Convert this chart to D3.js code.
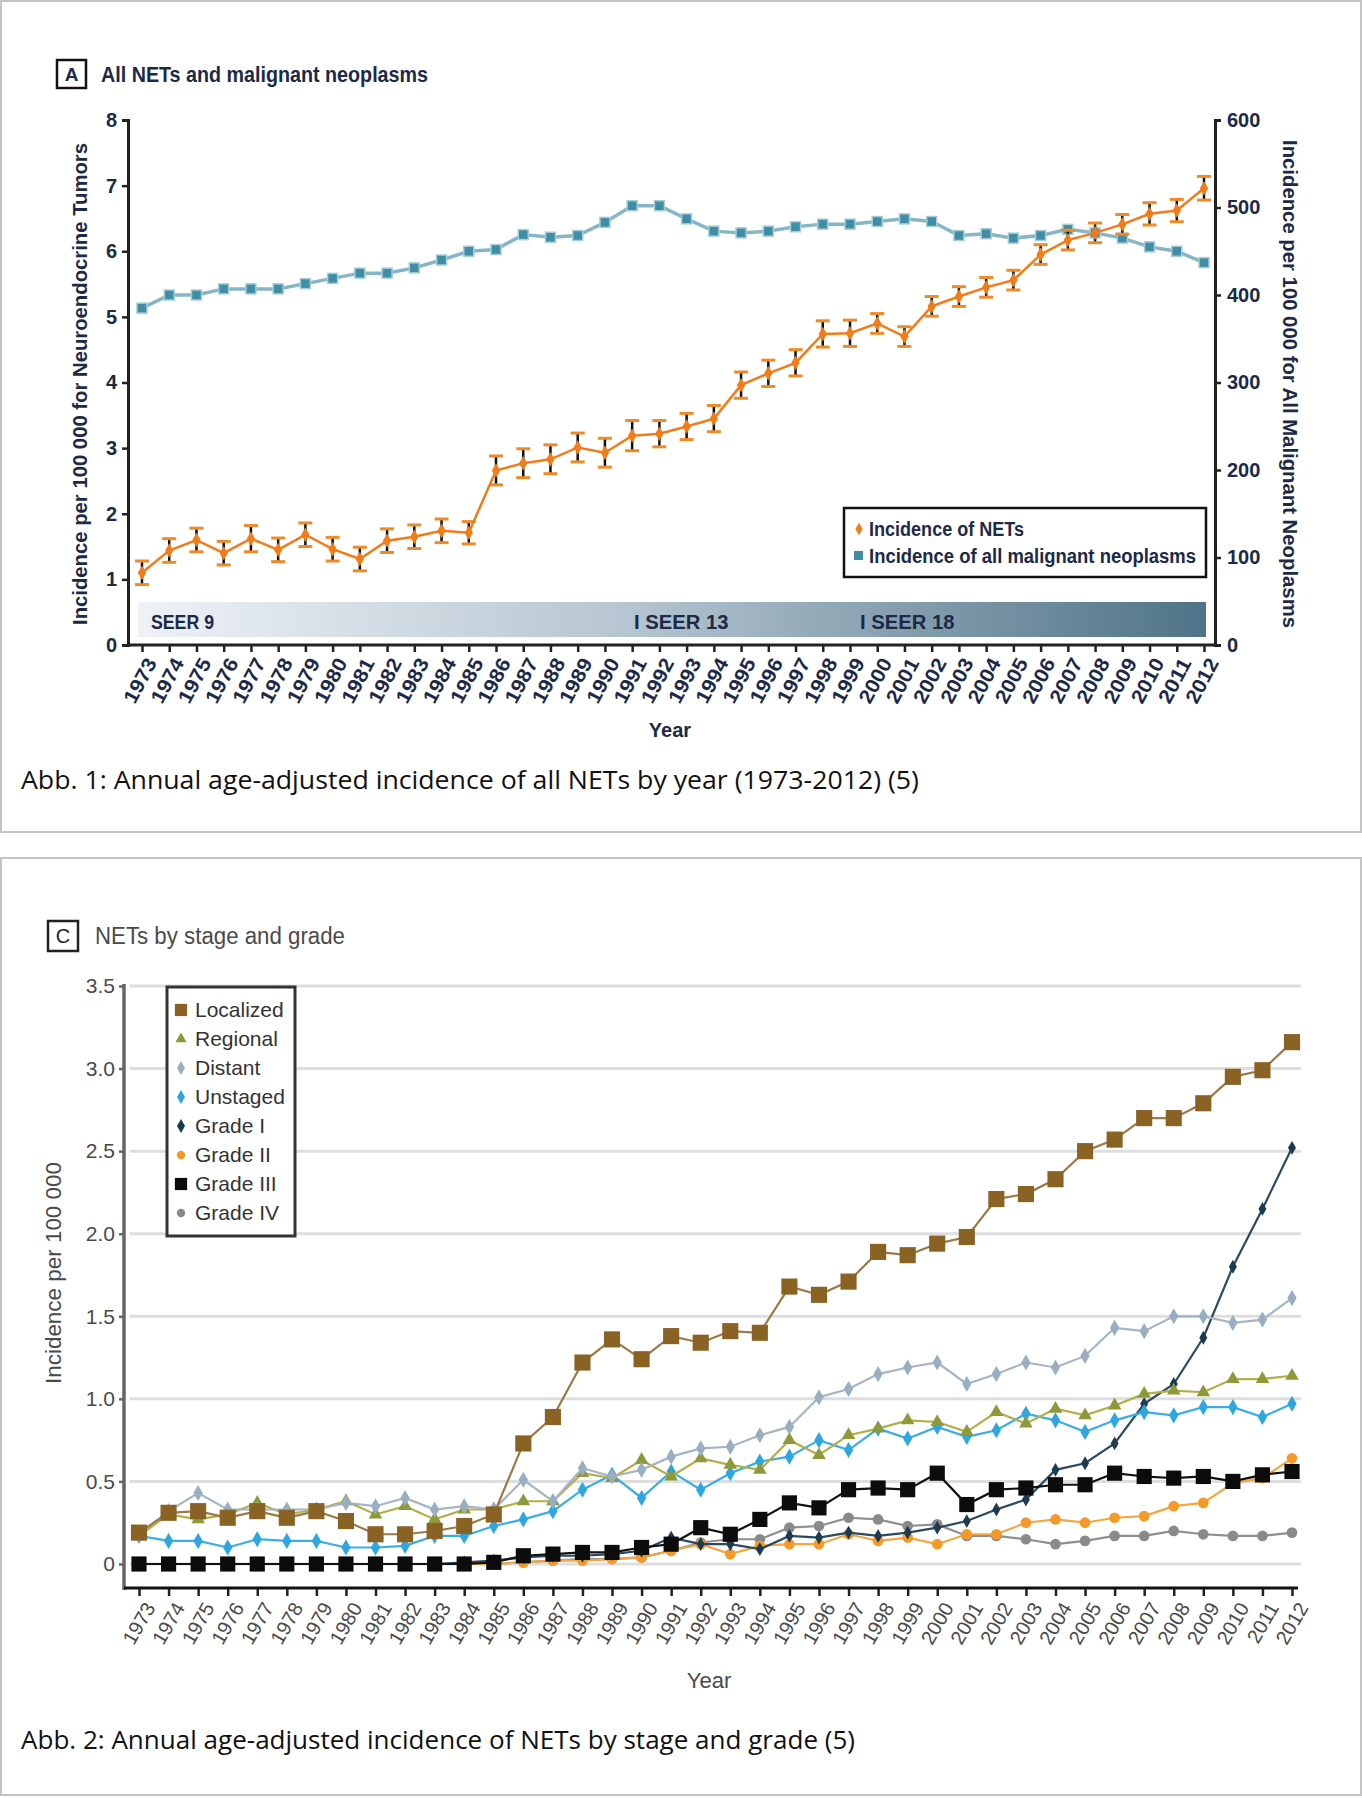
<!DOCTYPE html>
<html>
<head>
<meta charset="utf-8">
<script src="https://cdn.jsdelivr.net/npm/d3@7"></script>
<style>
  body { margin: 0; background: #fff; }
  svg { display: block; }
  .cond { font-family: "Liberation Sans", Arial, sans-serif; }
  .cap { font-family: "Open Sans", "Noto Sans", sans-serif; }
</style>
</head>
<body>
<script>
const years = d3.range(1973, 2013);

// panel A
const netIncidence = [1.10, 1.44, 1.60, 1.40, 1.62, 1.45, 1.68, 1.46, 1.31, 1.59,
  1.65, 1.74, 1.71, 2.66, 2.77, 2.83, 3.01, 2.93, 3.19, 3.22,
  3.33, 3.45, 3.96, 4.14, 4.30, 4.74, 4.75, 4.90, 4.70, 5.16,
  5.31, 5.45, 5.56, 5.95, 6.17, 6.28, 6.41, 6.57, 6.62, 6.96];
const netError = [0.18, 0.18, 0.18, 0.18, 0.20, 0.18, 0.18, 0.18, 0.18, 0.18,
  0.18, 0.18, 0.17, 0.22, 0.22, 0.22, 0.22, 0.22, 0.23, 0.20,
  0.20, 0.20, 0.20, 0.20, 0.20, 0.20, 0.20, 0.15, 0.15, 0.15,
  0.15, 0.15, 0.15, 0.15, 0.15, 0.15, 0.15, 0.17, 0.17, 0.18];
const malignantIncidence = [385, 400, 400, 407, 407, 407, 413, 419, 425, 425,
  431, 440, 450, 452, 469, 466, 468, 483, 502, 502,
  487, 473, 471, 473, 478, 481, 481, 484, 487, 484,
  468, 470, 465, 468, 475, 471, 465, 455, 450, 437];
const leftTicks = [0, 1, 2, 3, 4, 5, 6, 7, 8];
const rightTicks = [0, 100, 200, 300, 400, 500, 600];
const seerLabels = [{ year: 1973, label: "SEER 9" }, { year: 1990.74, label: "I SEER 13" }, { year: 1999.04, label: "I SEER 18" }];

// panel C
const stageGradeNames = ["Localized", "Regional", "Distant", "Unstaged", "Grade I", "Grade II", "Grade III", "Grade IV"];
const localized = [0.19, 0.31, 0.32, 0.28, 0.32, 0.28, 0.32, 0.26, 0.18, 0.18,
  0.20, 0.23, 0.30, 0.73, 0.89, 1.22, 1.36, 1.24, 1.38, 1.34,
  1.41, 1.40, 1.68, 1.63, 1.71, 1.89, 1.87, 1.94, 1.98, 2.21,
  2.24, 2.33, 2.50, 2.57, 2.70, 2.70, 2.79, 2.95, 2.99, 3.16];
const regional = [0.17, 0.30, 0.27, 0.30, 0.37, 0.30, 0.33, 0.38, 0.30, 0.35,
  0.27, 0.33, 0.33, 0.38, 0.38, 0.55, 0.52, 0.63, 0.53, 0.64,
  0.60, 0.57, 0.75, 0.66, 0.78, 0.82, 0.87, 0.86, 0.80, 0.92,
  0.85, 0.94, 0.90, 0.96, 1.03, 1.05, 1.04, 1.12, 1.12, 1.14];
const distant = [0.18, 0.32, 0.43, 0.33, 0.33, 0.33, 0.33, 0.37, 0.35, 0.40,
  0.33, 0.35, 0.33, 0.51, 0.38, 0.58, 0.53, 0.57, 0.65, 0.70,
  0.71, 0.78, 0.83, 1.01, 1.06, 1.15, 1.19, 1.22, 1.09, 1.15,
  1.22, 1.19, 1.26, 1.43, 1.41, 1.50, 1.50, 1.46, 1.48, 1.61];
const unstaged = [0.17, 0.14, 0.14, 0.10, 0.15, 0.14, 0.14, 0.10, 0.10, 0.11,
  0.17, 0.17, 0.23, 0.27, 0.32, 0.45, 0.54, 0.40, 0.56, 0.45,
  0.55, 0.62, 0.65, 0.75, 0.69, 0.82, 0.76, 0.83, 0.77, 0.81,
  0.91, 0.87, 0.80, 0.87, 0.92, 0.90, 0.95, 0.95, 0.89, 0.97];
const grade1 = [0, 0, 0, 0, 0, 0, 0, 0, 0, 0,
  0, 0.01, 0.02, 0.04, 0.05, 0.05, 0.06, 0.08, 0.16, 0.12,
  0.12, 0.09, 0.17, 0.16, 0.19, 0.17, 0.19, 0.22, 0.26, 0.33,
  0.39, 0.57, 0.61, 0.73, 0.97, 1.09, 1.37, 1.80, 2.15, 2.52];
const grade2 = [0, 0, 0, 0, 0, 0, 0, 0, 0, 0,
  0, 0, 0, 0.01, 0.02, 0.02, 0.03, 0.04, 0.08, 0.12,
  0.06, 0.11, 0.12, 0.12, 0.18, 0.14, 0.16, 0.12, 0.18, 0.18,
  0.25, 0.27, 0.25, 0.28, 0.29, 0.35, 0.37, 0.49, 0.52, 0.64];
const grade3 = [0, 0, 0, 0, 0, 0, 0, 0, 0, 0,
  0, 0, 0.01, 0.05, 0.06, 0.07, 0.07, 0.10, 0.12, 0.22,
  0.18, 0.27, 0.37, 0.34, 0.45, 0.46, 0.45, 0.55, 0.36, 0.45,
  0.46, 0.48, 0.48, 0.55, 0.53, 0.52, 0.53, 0.50, 0.54, 0.56];
const grade4 = [0, 0, 0, 0, 0, 0, 0, 0, 0, 0,
  0, 0, 0, 0.01, 0.02, 0.03, 0.03, 0.04, 0.08, 0.13,
  0.15, 0.15, 0.22, 0.23, 0.28, 0.27, 0.23, 0.24, 0.17, 0.17,
  0.15, 0.12, 0.14, 0.17, 0.17, 0.20, 0.18, 0.17, 0.17, 0.19];
const stageTicks = [0, 0.5, 1.0, 1.5, 2.0, 2.5, 3.0, 3.5];

const W = 1362, H = 1798;
const svg = d3.select("body").append("svg").attr("width", W).attr("height", H);

// text squeezed to the width it has in the picture
function fitText(sel, len) {
  return sel.attr("textLength", len).attr("lengthAdjust", "spacingAndGlyphs");
}

// panel frames
svg.append("rect").attr("x", 1).attr("y", 1).attr("width", W - 2).attr("height", 831)
  .attr("fill", "none").attr("stroke", "#c4c4c4").attr("stroke-width", 2);
svg.append("rect").attr("x", 1).attr("y", 858).attr("width", W - 2).attr("height", 937)
  .attr("fill", "none").attr("stroke", "#c4c4c4").attr("stroke-width", 2);

// ---------- panel A ----------
const navy = "#1c2a48";
const gA = svg.append("g").attr("class", "cond");
const xA = d3.scaleLinear().domain([1973, 2012]).range([142, 1204]);
const yL = d3.scaleLinear().domain([0, 8]).range([645, 120]);
const yR = d3.scaleLinear().domain([0, 600]).range([645, 120]);

gA.append("rect").attr("x", 57).attr("y", 60).attr("width", 29).attr("height", 28)
  .attr("fill", "none").attr("stroke", "#111").attr("stroke-width", 2.5);
gA.append("text").attr("x", 71.5).attr("y", 81).attr("text-anchor", "middle")
  .attr("font-size", 19).attr("font-weight", "bold").attr("fill", navy).text("A");
fitText(gA.append("text").attr("x", 101).attr("y", 82).attr("font-size", 22).attr("font-weight", "bold")
  .attr("fill", navy).text("All NETs and malignant neoplasms"), 327);

// SEER band
const grad = svg.append("defs").append("linearGradient").attr("id", "seer");
grad.append("stop").attr("offset", "0%").attr("stop-color", "#eef2f6");
grad.append("stop").attr("offset", "45%").attr("stop-color", "#b7c6d2");
grad.append("stop").attr("offset", "100%").attr("stop-color", "#4f7487");
gA.append("rect").attr("x", 138).attr("y", 602).attr("width", 1068).attr("height", 35)
  .attr("fill", "url(#seer)");
gA.selectAll("text.seer").data(seerLabels).enter().append("text")
  .attr("class", "seer").attr("x", d => xA(d.year) + 9).attr("y", 629)
  .attr("font-size", 20).attr("font-weight", "bold").attr("fill", navy)
  .attr("textLength", d => d.label.length * 10.5).attr("lengthAdjust", "spacingAndGlyphs")
  .text(d => d.label);

// axes
const axL = gA.append("g").attr("transform", "translate(128,0)")
  .call(d3.axisLeft(yL).tickValues(leftTicks).tickSize(6).tickPadding(5).tickFormat(d3.format("d")));
const axR = gA.append("g").attr("transform", "translate(1215,0)")
  .call(d3.axisRight(yR).tickValues(rightTicks).tickSize(6).tickPadding(6).tickFormat(d3.format("d")));
const axB = gA.append("g").attr("transform", "translate(0,645)")
  .call(d3.axisBottom(xA).tickValues(years).tickSize(7).tickFormat(d3.format("d")));
axB.select(".domain").remove();
gA.append("line").attr("x1", 128).attr("x2", 1215).attr("y1", 645).attr("y2", 645)
  .attr("stroke", "#222").attr("stroke-width", 3);
[axL, axR].forEach(a => a.select(".domain").attr("stroke", "#222").attr("stroke-width", 3));
[axL, axR, axB].forEach(a => {
  a.selectAll(".tick line").attr("stroke", "#222").attr("stroke-width", 2.5);
  a.selectAll("text").attr("font-size", 20).attr("font-weight", "bold").attr("fill", navy)
    .attr("font-family", null);
});
axB.selectAll("text").attr("text-anchor", "end").attr("dy", null)
  .attr("transform", "translate(6,13) rotate(-62)").attr("font-size", 20)
  .attr("textLength", 48).attr("lengthAdjust", "spacingAndGlyphs");

gA.append("text").attr("x", 670).attr("y", 737).attr("text-anchor", "middle")
  .attr("font-size", 20).attr("font-weight", "bold").attr("fill", navy).text("Year");
fitText(gA.append("text").attr("transform", "translate(87,384) rotate(-90)").attr("text-anchor", "middle")
  .attr("font-size", 21).attr("font-weight", "bold").attr("fill", navy)
  .text("Incidence per 100 000 for Neuroendocrine Tumors"), 482);
fitText(gA.append("text").attr("transform", "translate(1283,384) rotate(90)").attr("text-anchor", "middle")
  .attr("font-size", 21).attr("font-weight", "bold").attr("fill", navy)
  .text("Incidence per 100 000 for All Malignant Neoplasms"), 488);

// malignant series
const malData = years.map((y, i) => ({ y, v: malignantIncidence[i] }));
gA.append("path").datum(malData)
  .attr("d", d3.line().x(d => xA(d.y)).y(d => yR(d.v)))
  .attr("fill", "none").attr("stroke", "#86b6c6").attr("stroke-width", 3.5);
gA.selectAll("rect.mal").data(malData).enter().append("rect").attr("class", "mal")
  .attr("x", d => xA(d.y) - 5).attr("y", d => yR(d.v) - 5).attr("width", 10).attr("height", 10)
  .attr("fill", "#3f8ea5").attr("stroke", "#a6ccd8").attr("stroke-width", 1.5);

// NET series with error bars
const netData = years.map((y, i) => ({ y, v: netIncidence[i], e: netError[i] }));
const eb = gA.selectAll("g.eb").data(netData).enter().append("g").attr("class", "eb");
eb.append("line").attr("x1", d => xA(d.y)).attr("x2", d => xA(d.y))
  .attr("y1", d => yL(d.v - d.e)).attr("y2", d => yL(d.v + d.e))
  .attr("stroke", "#111").attr("stroke-width", 2.5);
["lo", "hi"].forEach(k => {
  eb.append("line").attr("x1", d => xA(d.y) - 7).attr("x2", d => xA(d.y) + 7)
    .attr("y1", d => yL(k === "lo" ? d.v - d.e : d.v + d.e))
    .attr("y2", d => yL(k === "lo" ? d.v - d.e : d.v + d.e))
    .attr("stroke", "#f08a24").attr("stroke-width", 3);
});
gA.append("path").datum(netData)
  .attr("d", d3.line().x(d => xA(d.y)).y(d => yL(d.v)))
  .attr("fill", "none").attr("stroke", "#f07c1a").attr("stroke-width", 2.5);
gA.selectAll("path.net").data(netData).enter().append("path").attr("class", "net")
  .attr("transform", d => `translate(${xA(d.y)},${yL(d.v)})`)
  .attr("d", d3.symbol(d3.symbolDiamond, 60)).attr("fill", "#f07c1a");

// legend A
gA.append("rect").attr("x", 844).attr("y", 508).attr("width", 362).attr("height", 69)
  .attr("fill", "#fff").attr("stroke", "#111").attr("stroke-width", 2.5);
gA.append("path").attr("transform", "translate(859,529)").attr("d", d3.symbol(d3.symbolDiamond, 45)).attr("fill", "#f07c1a");
gA.append("rect").attr("x", 854).attr("y", 551).attr("width", 9).attr("height", 9).attr("fill", "#3f8ea5");
fitText(gA.append("text").attr("x", 869).attr("y", 536).attr("font-size", 20).attr("font-weight", "bold")
  .attr("fill", navy).text("Incidence of NETs"), 155);
fitText(gA.append("text").attr("x", 869).attr("y", 563).attr("font-size", 20).attr("font-weight", "bold")
  .attr("fill", navy).text("Incidence of all malignant neoplasms"), 327);

fitText(svg.append("text").attr("class", "cap").attr("x", 21).attr("y", 789).attr("font-size", 26)
  .attr("fill", "#111").text("Abb. 1: Annual age-adjusted incidence of all NETs by year (1973-2012) (5)"), 898);

// ---------- panel C ----------
const grey = "#4a4a4a";
const gC = svg.append("g").attr("class", "cond");
const xC = d3.scaleLinear().domain([1973, 2012]).range([139, 1292]);
const yC = d3.scaleLinear().domain([0, 3.5]).range([1564, 986]);

gC.append("rect").attr("x", 48).attr("y", 921).attr("width", 30).attr("height", 30)
  .attr("fill", "none").attr("stroke", "#222").attr("stroke-width", 2.5);
gC.append("text").attr("x", 63).attr("y", 943).attr("text-anchor", "middle")
  .attr("font-size", 20).attr("fill", "#222").text("C");
fitText(gC.append("text").attr("x", 95).attr("y", 944).attr("font-size", 23)
  .attr("fill", grey).text("NETs by stage and grade"), 250);

// grid
gC.selectAll("line.grid").data(stageTicks).enter().append("line").attr("class", "grid")
  .attr("x1", 130).attr("x2", 1301).attr("y1", d => yC(d)).attr("y2", d => yC(d))
  .attr("stroke", "#dedede").attr("stroke-width", 3);

const axCL = gC.append("g").attr("transform", "translate(124,0)")
  .call(d3.axisLeft(yC).tickValues(stageTicks).tickSize(5).tickPadding(4)
    .tickFormat(d => d === 0 ? "0" : d3.format(".1f")(d)));
axCL.select(".domain").remove();
gC.append("line").attr("x1", 124).attr("x2", 124).attr("y1", 984).attr("y2", 1590)
  .attr("stroke", "#666").attr("stroke-width", 3.5);
const axCB = gC.append("g").attr("transform", "translate(0,1588)")
  .call(d3.axisBottom(xC).tickValues(years).tickSize(8).tickFormat(d3.format("d")));
axCB.select(".domain").remove();
gC.append("line").attr("x1", 124).attr("x2", 1298).attr("y1", 1588).attr("y2", 1588)
  .attr("stroke", "#111").attr("stroke-width", 3);
[axCL, axCB].forEach(a => {
  a.selectAll(".tick line").attr("stroke", "#222").attr("stroke-width", 2.5);
  a.selectAll("text").attr("font-size", 21).attr("fill", grey).attr("font-family", null);
});
axCL.selectAll(".tick line").attr("stroke", "#666");
axCB.selectAll("text").attr("text-anchor", "end").attr("dy", null).attr("font-size", 20)
  .attr("transform", "translate(7,14) rotate(-60)");

gC.append("text").attr("x", 709).attr("y", 1688).attr("text-anchor", "middle")
  .attr("font-size", 22).attr("fill", grey).text("Year");
fitText(gC.append("text").attr("transform", "translate(61,1273) rotate(-90)").attr("text-anchor", "middle")
  .attr("font-size", 22).attr("fill", grey).text("Incidence per 100 000"), 222);

const seriesC = [
  { name: "Grade IV", values: grade4, line: "#8e8e8e", fill: "#8a8a8a", sym: d3.symbolCircle, size: 90 },
  { name: "Grade II", values: grade2, line: "#f5a640", fill: "#f39a2a", sym: d3.symbolCircle, size: 90 },
  { name: "Grade I", values: grade1, line: "#2c4a5e", fill: "#1d3a4e", sym: d3.symbolDiamond, size: 55 },
  { name: "Grade III", values: grade3, line: "#111", fill: "#0c0c0c", sym: d3.symbolSquare, size: 230 },
  { name: "Unstaged", values: unstaged, line: "#3aaee3", fill: "#2ea6de", sym: d3.symbolDiamond, size: 75 },
  { name: "Regional", values: regional, line: "#b3ae48", fill: "#8e9a3a", sym: d3.symbolTriangle, size: 80 },
  { name: "Distant", values: distant, line: "#a7b4c4", fill: "#9aaec2", sym: d3.symbolDiamond, size: 75 },
  { name: "Localized", values: localized, line: "#9b7a48", fill: "#8a6224", sym: d3.symbolSquare, size: 260 }
];
seriesC.forEach(s => {
  const data = years.map((y, i) => ({ y, v: s.values[i] }));
  gC.append("path").datum(data)
    .attr("d", d3.line().x(d => xC(d.y)).y(d => yC(d.v)))
    .attr("fill", "none").attr("stroke", s.line).attr("stroke-width", 2.2);
  gC.selectAll(null).data(data).enter().append("path")
    .attr("transform", d => `translate(${xC(d.y)},${yC(d.v)})`)
    .attr("d", d3.symbol(s.sym, s.size)).attr("fill", s.fill);
});

// legend C
gC.append("rect").attr("x", 167).attr("y", 987).attr("width", 128).attr("height", 249)
  .attr("fill", "#fff").attr("stroke", "#333").attr("stroke-width", 3);
const legendC = stageGradeNames.map(n => seriesC.find(s => s.name === n));
const lg = gC.selectAll("g.lgc").data(legendC).enter().append("g").attr("class", "lgc")
  .attr("transform", (d, i) => `translate(181,${1010 + i * 29})`);
lg.append("path").attr("d", d => d3.symbol(d.sym, d.sym === d3.symbolSquare ? 150 : 55)())
  .attr("fill", d => d.fill);
lg.append("text").attr("x", 14).attr("y", 7).attr("font-size", 21).attr("fill", "#333").text(d => d.name);

fitText(svg.append("text").attr("class", "cap").attr("x", 21).attr("y", 1749).attr("font-size", 26)
  .attr("fill", "#111").text("Abb. 2: Annual age-adjusted incidence of NETs by stage and grade (5)"), 834);
</script>
</body>
</html>
